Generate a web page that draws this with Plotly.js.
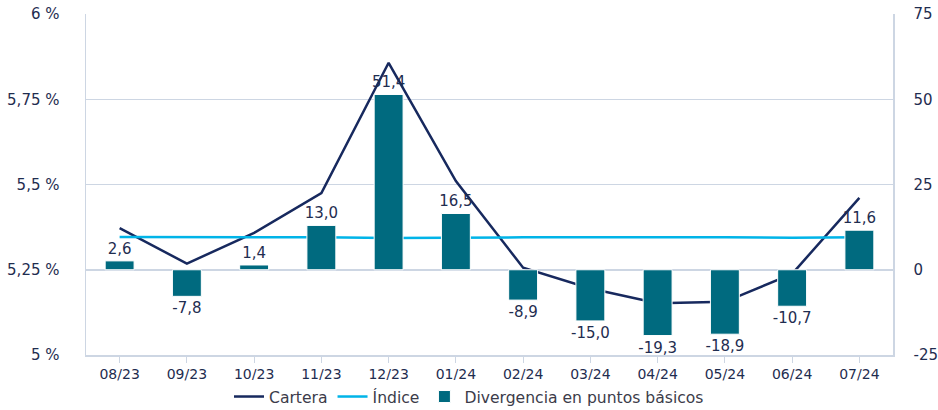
<!DOCTYPE html>
<html>
<head>
<meta charset="utf-8">
<script src="https://cdn.plot.ly/plotly-3.0.1.min.js"></script>
<style>html,body{margin:0;padding:0;background:#fff;}#chart{width:938px;height:410px;}</style>
</head>
<body>
<div id="chart"></div>
<script>
const months = ["08/23","09/23","10/23","11/23","12/23","01/24","02/24","03/24","04/24","05/24","06/24","07/24"];
const cartera = [5.372, 5.268, 5.358, 5.475, 5.857, 5.510, 5.256, 5.195, 5.152, 5.156, 5.238, 5.461];
const indice = [5.346, 5.346, 5.344, 5.345, 5.343, 5.345, 5.345, 5.345, 5.346, 5.345, 5.344, 5.345];
const divergencia = [2.6, -7.8, 1.4, 13.0, 51.4, 16.5, -8.9, -15.0, -19.3, -18.9, -10.7, 11.6];
const leftTicks = [5, 5.25, 5.5, 5.75, 6];
const leftTickText = ["5 %", "5,25 %", "5,5 %", "5,75 %", "6 %"];
const rightTicks = [-25, 0, 25, 50, 75];
const rightTickText = ["-25", "0", "25", "50", "75"];

const navy = "#17295e";
const txt = "#1f2d50";
const font = "DejaVu Sans, Verdana, sans-serif";

const traces = [
  {x: months, y: cartera, name: "Cartera", type: "scatter", mode: "lines",
   line: {color: navy, width: 2.5}, yaxis: "y"},
  {x: months, y: indice, name: "Índice", type: "scatter", mode: "lines",
   line: {color: "#00b4e8", width: 2.5}, yaxis: "y"},
  {x: months, y: divergencia, name: "Divergencia en puntos básicos", type: "bar",
   marker: {color: "#006a7f", line: {color: "#ffffff", width: 1}}, width: 0.43,
   text: divergencia.map(v => v.toFixed(1).replace(".", ",")),
   textposition: "outside", cliponaxis: false, constraintext: "none",
   textfont: {color: txt, size: 15, family: font},
   yaxis: "y2", hoverinfo: "skip"}
];

const layout = {
  width: 938, height: 410,
  margin: {l: 86, r: 45, t: 14, b: 55, autoexpand: false},
  paper_bgcolor: "#fff", plot_bgcolor: "#fff",
  separators: ",.",
  font: {family: font, color: txt, size: 14},
  showlegend: true,
  legend: {orientation: "h", x: 0.5, xanchor: "center", xref: "container",
           y: 0.032, yanchor: "middle", yref: "container",
           font: {size: 15.6, color: "#3c3c4a"}, traceorder: "normal"},
  xaxis: {type: "category", range: [-0.5, 11.5], showgrid: false,
          showline: true, linecolor: "#cdd6e3", linewidth: 1.5,
          ticks: "outside", ticklen: 6, tickcolor: "#cdd6e3",
          tickfont: {size: 14, color: txt}, fixedrange: true},
  yaxis: {range: [5, 6], tickvals: leftTicks, ticktext: leftTickText,
          showgrid: true, gridcolor: "#cdd6e3", gridwidth: 1.5,
          showline: true, linecolor: "#cdd6e3", linewidth: 1.5,
          zeroline: false, tickfont: {size: 15, color: txt}, ticklabelstandoff: 22},
  yaxis2: {range: [-25, 75], tickvals: rightTicks, ticktext: rightTickText,
           overlaying: "y", side: "right",
           showgrid: false, zeroline: false, showline: true, linecolor: "#cdd6e3", linewidth: 1.5,
           tickfont: {size: 15, color: txt}, ticklabelstandoff: 16}
};

Plotly.newPlot("chart", traces, layout, {displayModeBar: false, staticPlot: true});
</script>
</body>
</html>
